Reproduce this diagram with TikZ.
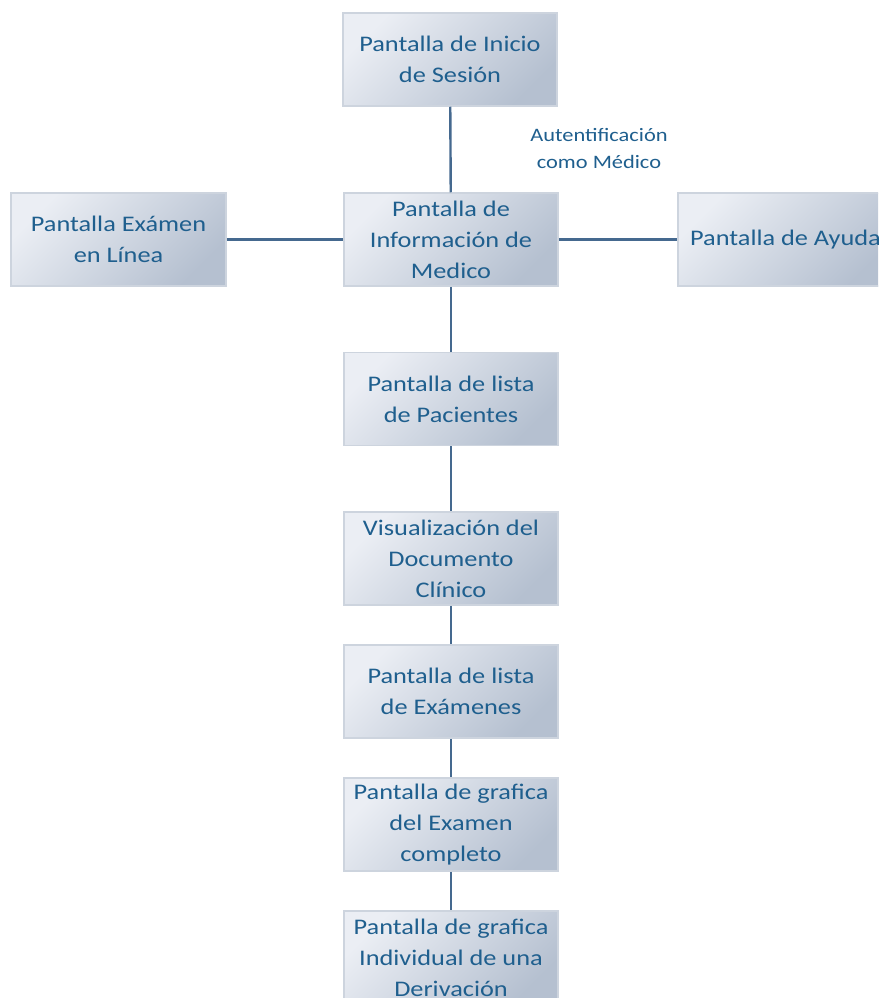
\documentclass[tikz,border=0pt]{standalone}
\usepackage{fontspec}
\newfontfamily\boxfont[FakeStretch=1.18]{Carlito}
\definecolor{boxlight}{HTML}{EBEEF4}
\definecolor{boxdark}{HTML}{B5C0D0}
\definecolor{boxedge}{HTML}{CDD4DE}
\definecolor{txtblue}{HTML}{1F5F8E}
\definecolor{wire}{HTML}{45698F}
\tikzset{
  screen/.style={draw=boxedge, line width=1.5pt, shading=axis,
    top color=boxlight, bottom color=boxdark, shading angle=45,
    minimum width=214pt, minimum height=93pt, inner sep=0pt,
    align=center, text=txtblue, font=\boxfont\fontsize{22.3}{31}\selectfont},
  link/.style={draw=wire, line width=2.4pt},
  note/.style={align=center, text=txtblue, inner sep=0pt,
    font=\boxfont\fontsize{19}{27}\selectfont}
}
\begin{document}
\begin{tikzpicture}[x=1pt, y=-1pt]
  \useasboundingbox (0,0) rectangle (878,998);
  \clip (0,0) rectangle (878,998);
  % screens of the application
  \node[screen] (login) at (450,59.5) {Pantalla de Inicio\\de Sesión};
  \node[screen, minimum width=215pt] (exam) at (118.5,239.5) {Pantalla Exámen\\en Línea};
  \node[screen] (info) at (451,239.5) {Pantalla de\\Información de\\Medico};
  \node[screen, minimum width=215pt] (help) at (785.5,239.5) {Pantalla de Ayuda};
  \node[screen] (patients) at (451,399) {Pantalla de lista\\de Pacientes};
  \node[screen] (doc) at (451,558.5) {Visualización del\\Documento\\Clínico};
  \node[screen] (exams) at (451,691.5) {Pantalla de lista\\de Exámenes};
  \node[screen] (graph) at (451,824.5) {Pantalla de grafica\\del Examen\\completo};
  \node[screen] (lead) at (451,957.5) {Pantalla de grafica\\Individual de una\\Derivación};
  % label of the login transition
  \node[note] (auth) at (599,148) {Autentificación\\como Médico};
  % navigation links
  \draw[link] (login) -- (info);
  \draw[link] (exam) -- (info);
  \draw[link] (info) -- (help);
  \draw[link] (info) -- (patients);
  \draw[link] (patients) -- (doc);
  \draw[link] (doc) -- (exams);
  \draw[link] (exams) -- (graph);
  \draw[link] (graph) -- (lead);
\end{tikzpicture}
\end{document}
